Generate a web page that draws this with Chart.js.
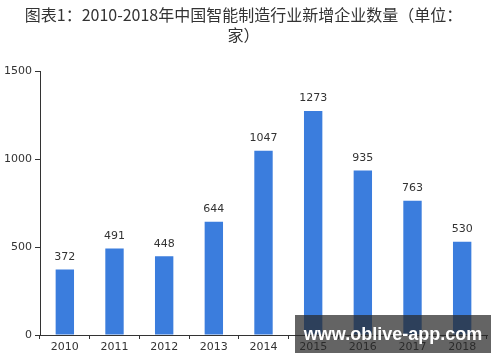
<!DOCTYPE html>
<html>
<head>
<meta charset="utf-8">
<script src="https://cdn.jsdelivr.net/npm/chart.js@4"></script>
<style>
  html, body { margin: 0; padding: 0; background: #fff; }
  #wrap { position: relative; width: 500px; height: 362px; }
  #mark {
    position: absolute; left: 295px; top: 315px; width: 196px; height: 38px;
    background: rgba(40, 40, 40, 0.72); color: #fff; white-space: nowrap;
    font: bold 18px "Liberation Sans", Arial, sans-serif; line-height: 38px; text-align: center;
  }
</style>
</head>
<body>
<div id="wrap">
  <canvas id="chart" width="500" height="362"></canvas>
  <div id="mark">www.oblive-app.com</div>
</div>
<script>
const years = ['2010', '2011', '2012', '2013', '2014', '2015', '2016', '2017', '2018'];
const newFirms = [372, 491, 448, 644, 1047, 1273, 935, 763, 530];
const yTicks = [0, 500, 1000, 1500];

// draws the number above each bar
const barLabels = {
    id: 'barLabels',
    afterDatasetsDraw(chart) {
        const ctx = chart.ctx;
        const meta = chart.getDatasetMeta(0);
        ctx.save();
        ctx.fillStyle = '#333';
        ctx.font = '11px "DejaVu Sans", sans-serif';
        ctx.textAlign = 'center';
        ctx.textBaseline = 'bottom';
        meta.data.forEach((bar, i) => {
            ctx.fillText(newFirms[i], bar.x, bar.y - 7);
        });
        ctx.restore();
    }
};

new Chart(document.getElementById('chart').getContext('2d'), {
    type: 'bar',
    data: {
        labels: years,
        datasets: [{
            data: newFirms,
            backgroundColor: '#3b7ddd',
            barPercentage: 0.37,
            categoryPercentage: 1
        }]
    },
    options: {
        responsive: false,
        animation: false,
        layout: { padding: { right: 13 } },
        plugins: {
            legend: { display: false },
            tooltip: { enabled: false },
            title: {
                display: true,
                text: ['图表1：2010-2018年中国智能制造行业新增企业数量（单位：', '家）'],
                color: '#333',
                font: { size: 16, family: '"Noto Sans CJK SC", sans-serif', weight: 'normal', lineHeight: 1.25 },
                padding: { top: 5, bottom: 26 }
            }
        },
        scales: {
            x: {
                grid: { drawOnChartArea: false, tickLength: 4, color: '#333' },
                border: { color: '#333' },
                ticks: { color: '#333', font: { size: 11, family: '"DejaVu Sans", sans-serif' }, padding: 2 },
                afterFit(scale) { scale.height = 27; }
            },
            y: {
                min: 0,
                max: 1500,
                afterBuildTicks(scale) { scale.ticks = yTicks.map(v => ({ value: v })); },
                grid: { drawOnChartArea: false, tickLength: 5, color: '#333' },
                border: { color: '#333' },
                ticks: {
                    color: '#333',
                    font: { size: 11, family: '"DejaVu Sans", sans-serif' },
                    padding: 3,
                    callback: v => String(v)
                },
                afterFit(scale) { scale.width = 40; }
            }
        }
    },
    plugins: [barLabels]
});
</script>
</body>
</html>
